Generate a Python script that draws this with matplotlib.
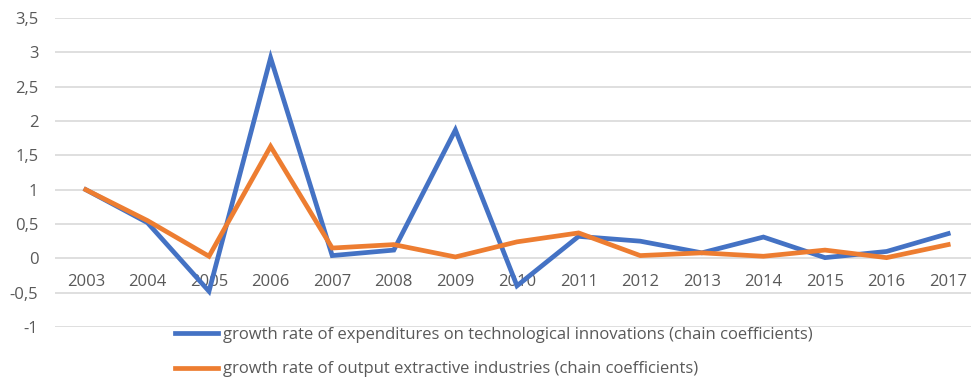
import matplotlib.pyplot as plt
from matplotlib.ticker import FuncFormatter

years = [str(y) for y in range(2003, 2018)]
expenditures = [1.0, 0.52, -0.48, 2.92, 0.04, 0.12, 1.87, -0.40, 0.32, 0.25,
                0.08, 0.31, 0.01, 0.10, 0.36]
output_extr = [1.0, 0.55, 0.03, 1.63, 0.15, 0.20, 0.02, 0.24, 0.37, 0.04,
               0.08, 0.03, 0.12, 0.01, 0.20]
label_exp = "growth rate of expenditures on technological innovations (chain coefficients)"
label_out = "growth rate of output extractive industries (chain coefficients)"

BLUE = "#4472c4"
ORANGE = "#ed7d31"
GRID = "#d9d9d9"
TEXT = "#595959"

plt.rcParams['font.family'] = ['Open Sans', 'DejaVu Sans']

W, H = 971, 377
fig = plt.figure(figsize=(W / 100, H / 100), dpi=100)
left, right, top, bottom = 55, 971, 18, 327
ax = fig.add_axes([left / W, 1 - bottom / H, (right - left) / W, (bottom - top) / H])

x = list(range(len(years)))
ax.plot(x, expenditures, color=BLUE, lw=3.4, solid_joinstyle='miter', label=label_exp)
ax.plot(x, output_extr, color=ORANGE, lw=3.4, solid_joinstyle='miter', label=label_out)

ax.set_xlim(-0.5, -0.5 + (right - left) / 61.6)
ax.set_ylim(-1, 3.5)
ax.set_yticks([i * 0.5 for i in range(-2, 8)])
ax.yaxis.set_major_formatter(FuncFormatter(lambda v, p: f"{v:g}".replace('.', ',')))
ax.grid(axis='y', color=GRID, lw=1.2)
ax.set_axisbelow(True)

ax.set_xticks(x)
ax.set_xticklabels(years)
ax.spines['bottom'].set_position(('data', 0))
for s in ax.spines.values():
    s.set_visible(False)
ax.tick_params(axis='x', length=0, pad=11.5, labelsize=12, labelcolor=TEXT)
ax.tick_params(axis='y', length=0, pad=12, labelsize=12, labelcolor=TEXT)

leg = fig.legend(loc='upper left', bbox_to_anchor=(175 / W, 1 - 327 / H),
                 frameon=False, fontsize=12, labelcolor=TEXT,
                 handlelength=2.6, handletextpad=0.25, labelspacing=1.1,
                 borderpad=0, borderaxespad=0)

fig.savefig("out.png", dpi=100)
